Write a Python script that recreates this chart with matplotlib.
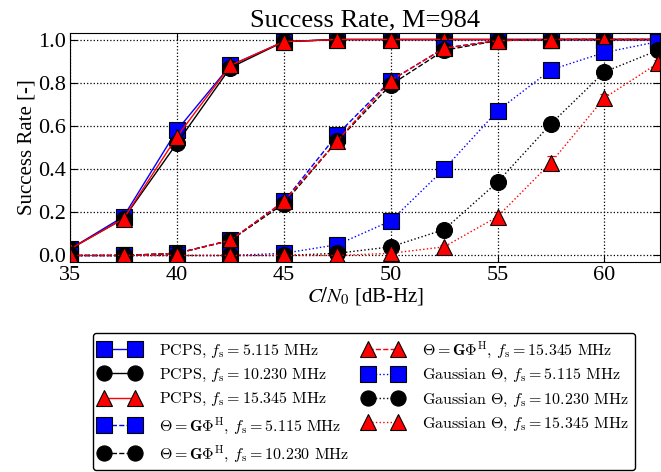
import numpy as np
import matplotlib
matplotlib.use("Agg")
import matplotlib.pyplot as plt
from matplotlib.font_manager import FontProperties

plt.rcParams['font.family'] = ['Liberation Serif', 'DejaVu Serif']
plt.rcParams['mathtext.fontset'] = 'stix'
plt.rcParams['axes.unicode_minus'] = False

cn0 = [35, 37.5, 40, 42.5, 45, 47.5, 50, 52.5, 55, 57.5, 60, 62.5]

# PCPS
pcps_5 = [0.03, 0.18, 0.58, 0.88, 0.99, 1.0, 1.0, 1.0, 1.0, 1.0, 1.0, 1.0]
pcps_10 = [0.03, 0.17, 0.52, 0.87, 0.99, 1.0, 1.0, 1.0, 1.0, 1.0, 1.0, 1.0]
pcps_15 = [0.03, 0.17, 0.55, 0.88, 0.99, 1.0, 1.0, 1.0, 1.0, 1.0, 1.0, 1.0]
# Theta = G Phi^H
gphi_5 = [0.0, 0.0, 0.01, 0.07, 0.25, 0.56, 0.81, 0.96, 0.995, 1.0, 1.0, 1.0]
gphi_10 = [0.0, 0.0, 0.01, 0.07, 0.24, 0.53, 0.79, 0.95, 0.995, 1.0, 1.0, 1.0]
gphi_15 = [0.0, 0.0, 0.01, 0.07, 0.25, 0.53, 0.81, 0.96, 0.995, 1.0, 1.0, 1.0]
# Gaussian Theta
gauss_5 = [0.0, 0.0, 0.0, 0.0, 0.01, 0.05, 0.16, 0.40, 0.67, 0.86, 0.94, 0.99]
gauss_10 = [0.0, 0.0, 0.0, 0.0, 0.0, 0.01, 0.04, 0.12, 0.34, 0.61, 0.85, 0.95]
gauss_15 = [0.0, 0.0, 0.0, 0.0, 0.0, 0.0, 0.01, 0.04, 0.18, 0.43, 0.73, 0.89]

# half-width of error bars
err_pcps = [0.01, 0.02, 0.03, 0.02, 0.01, 0, 0, 0, 0, 0, 0, 0]
err_gphi = [0, 0, 0.005, 0.01, 0.02, 0.03, 0.02, 0.01, 0.005, 0, 0, 0]
err_gauss_5 = [0, 0, 0, 0, 0.005, 0.01, 0.02, 0.02, 0.03, 0.02, 0.01, 0.005]
err_gauss_10 = [0, 0, 0, 0, 0, 0.005, 0.01, 0.015, 0.02, 0.03, 0.02, 0.01]
err_gauss_15 = [0, 0, 0, 0, 0, 0, 0.005, 0.01, 0.02, 0.03, 0.02, 0.015]

fs_labels = ['5.115', '10.230', '15.345']
colors = ['b', 'k', 'r']
markers = ['s', 'o', '^']

series = [
    ('PCPS, $f_\\mathrm{s} = $%s MHz', '-', [pcps_5, pcps_10, pcps_15], [err_pcps] * 3),
    ('$\\Theta = \\mathbf{G}\\Phi^\\mathrm{H}$, $f_\\mathrm{s} = $%s MHz', '--', [gphi_5, gphi_10, gphi_15], [err_gphi] * 3),
    ('Gaussian $\\Theta$, $f_\\mathrm{s} = $%s MHz', ':', [gauss_5, gauss_10, gauss_15],
     [err_gauss_5, err_gauss_10, err_gauss_15]),
]

fig = plt.figure(figsize=(6.61, 4.72), dpi=100)
ax = fig.add_axes([0.106, 0.445, 0.8925, 0.485])

handles, labels = [], []
for label, ls, ys, errs in series:
    for i in range(3):
        h = ax.errorbar(cn0, ys[i], yerr=errs[i], color=colors[i], ls=ls, lw=1,
                        marker=markers[i], ms=11.5, mfc=colors[i], mec='k', mew=0.8,
                        ecolor=colors[i], elinewidth=1, capsize=3)
        handles.append(h.lines[0])
        labels.append(label % fs_labels[i])

ax.set_xlim(35, 62.6)
ax.set_ylim(-0.03, 1.03)
ax.set_xticks([35, 40, 45, 50, 55, 60])
ax.set_yticks([0.0, 0.2, 0.4, 0.6, 0.8, 1.0])
ax.set_yticklabels(['0.0', '0.2', '0.4', '0.6', '0.8', '1.0'])
ax.tick_params(direction='in', top=True, right=True, labelsize=16, length=5, pad=3)
ax.grid(True, color='k', ls=':', lw=0.9)
ax.set_xlabel('$C/N_0$ [dB-Hz]', fontsize=15, labelpad=0)
ax.set_ylabel('Success Rate [-]', fontsize=15, labelpad=1)
ax.set_title('Success Rate, M=984', fontsize=19, pad=5)

leg_font = FontProperties(family=['cmr10', 'DejaVu Serif'], size=11.5, math_fontfamily='cm')
leg = fig.legend(handles, labels, loc='upper left',
                 bbox_to_anchor=(0.141, 0.0, 0.82, 0.294), mode='expand',
                 ncol=2, numpoints=2, markerscale=0.95, handlelength=2.5,
                 handletextpad=1.2, labelspacing=0.45, edgecolor='k',
                 fancybox=True, framealpha=1, borderaxespad=0, borderpad=0.4,
                 prop=leg_font)
leg.get_frame().set_linewidth(1)

fig.savefig('out.png', dpi=100)
